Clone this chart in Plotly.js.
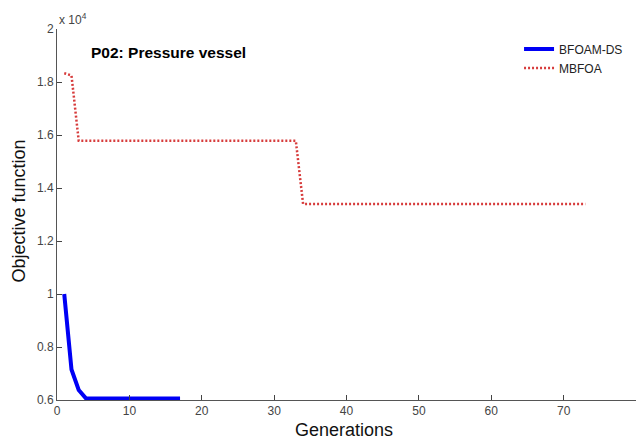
<!DOCTYPE html>
<html>
<head>
<meta charset="utf-8">
<script src="https://cdn.plot.ly/plotly-3.0.1.min.js"></script>
<style>html,body{margin:0;padding:0;background:#fff;}#chart{width:642px;height:444px;}</style>
</head>
<body>
<div id="chart"></div>
<script>
// Data (objective values, raw units)
const bfoamGen = [1, 2, 3, 4, 5, 6, 7, 8, 9, 10, 11, 12, 13, 14, 15, 16, 17];
const bfoamVal = [10000, 7150, 6380, 6060, 6060, 6060, 6060, 6060, 6060, 6060, 6060, 6060, 6060, 6060, 6060, 6060, 6060];
const mbfoaGen = [1, 2, 3, 33, 34, 73];
const mbfoaVal = [18330, 18250, 15780, 15780, 13400, 13400];
const yTickVals = [6000, 8000, 10000, 12000, 14000, 16000, 18000, 20000];
const yTickText = ['0.6', '0.8', '1', '1.2', '1.4', '1.6', '1.8', '2'];
const xTickVals = [0, 10, 20, 30, 40, 50, 60, 70, 80];

const font = 'Liberation Sans, Arial, sans-serif';
const traces = [
  {x: bfoamGen, y: bfoamVal, type: 'scatter', mode: 'lines', name: 'BFOAM-DS',
   line: {color: 'rgb(0,0,245)', width: 4}},
  {x: mbfoaGen, y: mbfoaVal, type: 'scatter', mode: 'lines', name: 'MBFOA',
   line: {color: 'rgb(215,60,60)', width: 2.5, dash: '2px,2px'}}
];
const layout = {
  width: 642, height: 444,
  margin: {l: 57, r: 6, t: 29, b: 44},
  paper_bgcolor: '#fff', plot_bgcolor: '#fff',
  showlegend: true,
  legend: {x: 0.798, y: 0.985, xanchor: 'left', yanchor: 'top', bgcolor: 'rgba(0,0,0,0)',
           font: {family: font, size: 12, color: '#222'}, tracegroupgap: 0},
  xaxis: {range: [0, 80], tickvals: xTickVals, ticks: 'inside', ticklen: 5, tickcolor: '#444',
          showline: true, linecolor: '#555', linewidth: 1, showgrid: false, zeroline: false,
          tickfont: {family: font, size: 12, color: '#444'}},
  yaxis: {range: [6000, 20000], tickvals: yTickVals, ticktext: yTickText, ticks: 'inside', ticklen: 5,
          tickcolor: '#444', showline: true, linecolor: '#555', linewidth: 1, showgrid: false, zeroline: false,
          tickfont: {family: font, size: 12, color: '#444'}},
  annotations: [
    {text: 'Generations', xref: 'paper', yref: 'paper', x: 0.495, y: -0.08, xanchor: 'center', yanchor: 'middle',
     showarrow: false, font: {family: font, size: 18, color: '#111'}},
    {text: 'Objective function', xref: 'paper', yref: 'paper', x: -0.066, y: 0.51, xanchor: 'center', yanchor: 'middle',
     textangle: -90, showarrow: false, font: {family: font, size: 18, color: '#111'}},
    {text: 'P02: Pressure vessel', xref: 'paper', yref: 'paper', x: 0.056, y: 0.937, xanchor: 'left', yanchor: 'middle',
     showarrow: false, font: {family: font, size: 15.5, color: '#000', weight: 'bold'}},
    {text: 'x 10<sup>4</sup>', xref: 'paper', yref: 'paper', x: 0.0, y: 1.0, xanchor: 'left', yanchor: 'bottom',
     showarrow: false, font: {family: font, size: 12, color: '#444'}}
  ]
};
Plotly.newPlot('chart', traces, layout, {displayModeBar: false, staticPlot: true});
</script>
</body>
</html>
